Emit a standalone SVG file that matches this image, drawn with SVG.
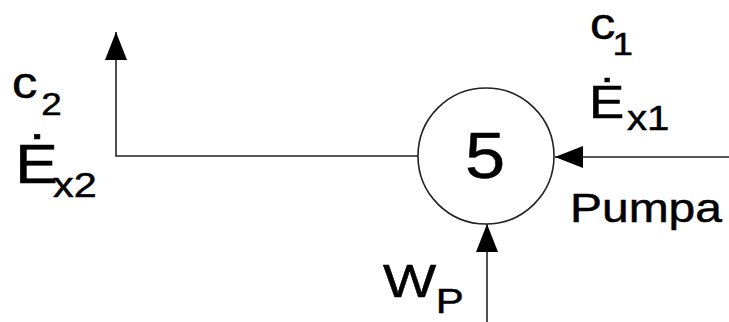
<svg xmlns="http://www.w3.org/2000/svg" width="729" height="322" viewBox="0 0 729 322">
  <style>
    .ln { fill: none; stroke: #222; stroke-width: 1.6; }
    .t { font-family: "Liberation Sans", Arial, sans-serif; fill: #000; stroke: #000; stroke-width: 0.5; }
  </style>
  <defs>
    <marker id="arr" viewBox="0 0 28 22" refX="28" refY="11" markerWidth="28" markerHeight="22" markerUnits="userSpaceOnUse" orient="auto">
      <path d="M0,0 L28,11 L0,22 z" fill="#000"/>
    </marker>
  </defs>
  <rect width="729" height="322" fill="#fff"/>
  <g id="connectors">
    <line class="ln" x1="729" y1="157" x2="555" y2="157" marker-end="url(#arr)"/>
    <polyline class="ln" points="418,156 116,156 116,32" marker-end="url(#arr)"/>
    <line class="ln" x1="487" y1="322" x2="487" y2="224" marker-end="url(#arr)"/>
  </g>
  <g id="node5">
    <circle class="ln" cx="486" cy="156" r="68" fill="#fff"/>
    <text class="t" font-size="64" text-anchor="middle" transform="translate(485,178) scale(1.13,1)">5</text>
  </g>
  <g id="label-out">
    <text class="t" font-size="44" transform="translate(12,98) scale(1.15,1)">c<tspan x="25.5" dy="17" font-size="32">2</tspan></text>
    <text class="t" font-size="56" transform="translate(15,183) scale(1.15,1)">Ė<tspan x="33" dy="14" font-size="36">x2</tspan></text>
  </g>
  <g id="label-in">
    <text class="t" font-size="44" transform="translate(590,39) scale(1.15,1)">c<tspan x="19.5" dy="16" font-size="32">1</tspan></text>
    <text class="t" font-size="46" transform="translate(589,118) scale(1.15,1)">Ė<tspan x="33" dy="12" font-size="35">x1</tspan></text>
  </g>
  <g id="label-pumpa">
    <text class="t" font-size="41" transform="translate(570,222) scale(1.17,1)">Pumpa</text>
  </g>
  <g id="label-wp">
    <text class="t" font-size="47" transform="translate(383,297) scale(1.2,1)">W<tspan x="44" dy="16" font-size="35">P</tspan></text>
  </g>
</svg>
